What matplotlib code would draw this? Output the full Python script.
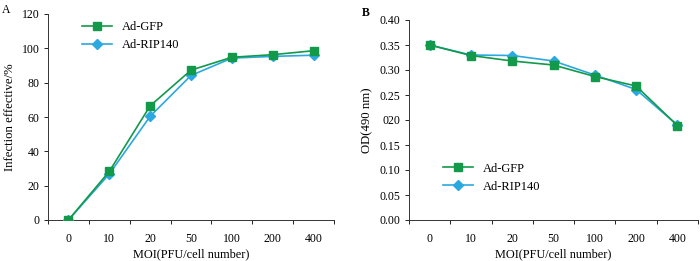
import numpy as np
import matplotlib.pyplot as plt

plt.rcParams['font.family'] = ['Liberation Serif', 'DejaVu Serif']
plt.rcParams['font.size'] = 8.5

# data
moi = ['0', '10', '20', '50', '100', '200', '400']
gfp_inf = [0, 28.3, 66.5, 87.3, 94.8, 96.3, 98.6]
rip_inf = [0, 26.8, 60.4, 84.2, 94.3, 95.3, 96.0]
gfp_od = [0.350, 0.329, 0.318, 0.310, 0.287, 0.268, 0.189]
rip_od = [0.350, 0.330, 0.329, 0.318, 0.290, 0.261, 0.190]
od_ticks = [0.00, 0.05, 0.10, 0.15, 0.20, 0.25, 0.30, 0.35, 0.40]
od_labels = ['0.00', '0.05', '0.10', '0.15', '020', '0.25', '0.30', '0.35', '0.40']

green = '#12994a'
blue = '#2ba8e0'

fig = plt.figure(figsize=(7, 2.61), dpi=100)
axA = fig.add_axes([48/700, 41/261, 286/700, 206/261])
axB = fig.add_axes([409/700, 41/261, 289/700, 200/261])

x = np.arange(len(moi))


def style(ax):
    ax.set_xlim(-0.5, len(moi) - 0.5)
    ax.set_xticks(x)
    ax.set_xticklabels(moi)
    ax.set_xticks(np.arange(len(moi) + 1) - 0.5, minor=True)
    ax.tick_params(axis='x', which='major', length=0, pad=9)
    ax.tick_params(axis='x', which='minor', length=3, direction='out', width=0.6)
    ax.tick_params(axis='y', length=3, direction='out', width=0.6, pad=3)
    for s in ['top', 'right']:
        ax.spines[s].set_visible(False)
    for s in ['left', 'bottom']:
        ax.spines[s].set_linewidth(0.7)
        ax.spines[s].set_color('#333333')
    ax.set_xlabel('MOI(PFU/cell number)', fontsize=8.8, labelpad=2.5)


# panel A
axA.plot(x, rip_inf, color=blue, marker='D', markersize=5.5, lw=1.2, label='Ad-RIP140', zorder=3)
axA.plot(x, gfp_inf, color=green, marker='s', markersize=5.5, lw=1.2, label='Ad-GFP', zorder=4)
axA.set_ylim(0, 120)
axA.set_yticks(range(0, 121, 20))
style(axA)
axA.set_ylabel('Infection effective/%', fontsize=9.2)
axA.yaxis.set_label_coords(-0.113, 0.5)
h, l = axA.get_legend_handles_labels()
axA.legend(h[::-1], l[::-1], loc='upper left', bbox_to_anchor=(0.08, 1.02), frameon=False,
           fontsize=9, handlelength=2.4, labelspacing=0.5)
fig.text(0.003, 0.985, 'A', fontsize=8.5, va='top')

# panel B
axB.plot(x, rip_od, color=blue, marker='D', markersize=5.5, lw=1.2, label='Ad-RIP140', zorder=3)
axB.plot(x, gfp_od, color=green, marker='s', markersize=5.5, lw=1.2, label='Ad-GFP', zorder=4)
axB.set_ylim(0, 0.40)
axB.set_yticks(od_ticks)
axB.set_yticklabels(od_labels)
style(axB)
axB.set_ylabel('OD(490 nm)', fontsize=9.2)
axB.yaxis.set_label_coords(-0.124, 0.5)
h, l = axB.get_legend_handles_labels()
axB.legend(h[::-1], l[::-1], loc='lower left', bbox_to_anchor=(0.08, 0.08), frameon=False,
           fontsize=9, handlelength=2.4, labelspacing=0.5)
fig.text(362/700, 0.975, 'B', fontsize=8.5, va='top', fontweight='bold')

fig.savefig('out.png', dpi=100)
